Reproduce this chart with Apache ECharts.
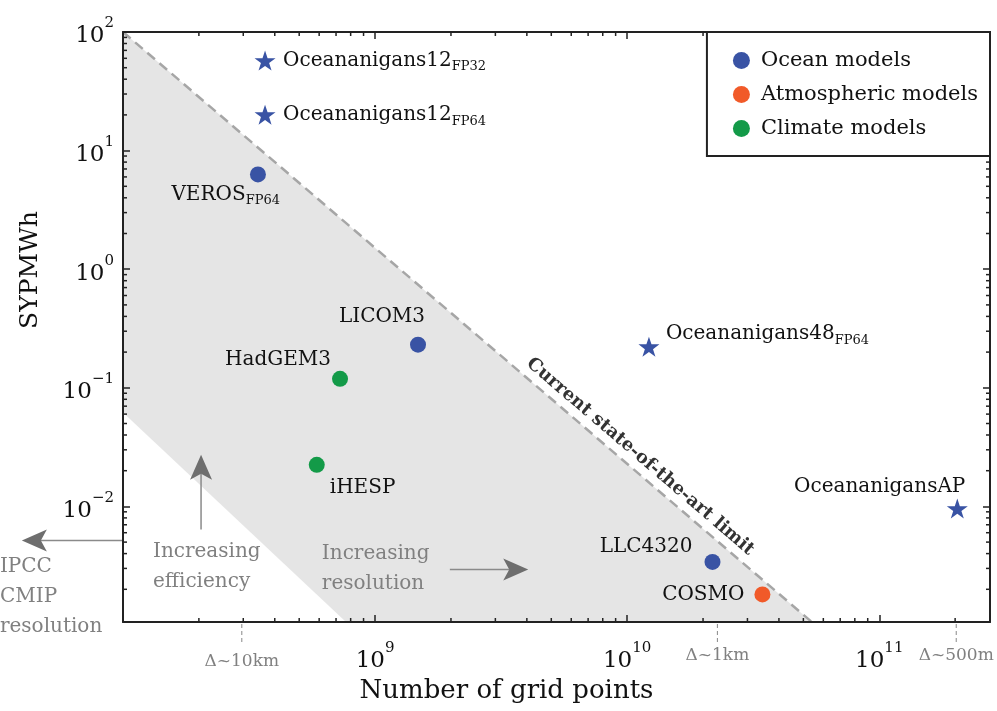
<!DOCTYPE html>
<html>
<head>
<meta charset="utf-8">
<script src="https://cdn.jsdelivr.net/npm/echarts@6/dist/echarts.min.js"></script>
<style>
  html, body { margin: 0; padding: 0; background: #fff; }
  #chart { width: 997px; height: 711px; }
</style>
</head>
<body>
<div id="chart"></div>
<script>
// axis ranges
const xMin = 1e8
const xMax = 2.75e11
const yMin = 1.06e-3
const yMax = 100

// ocean models (circles)
const oceanNames = ['VEROS', 'LICOM3', 'LLC4320']
const oceanSub = ['FP64', '', '']
const oceanX = [3.43e8, 1.48e9, 2.18e10]
const oceanY = [6.3, 0.231, 0.0034]

// Oceananigans runs (stars)
const starNames = ['Oceananigans12', 'Oceananigans12', 'Oceananigans48', 'OceananigansAP']
const starSub = ['FP32', 'FP64', 'FP64', '']
const starX = [3.66e8, 3.66e8, 1.22e10, 2.04e11]
const starY = [57.4, 20.1, 0.222, 0.0096]

// atmospheric models
const atmosNames = ['COSMO']
const atmosSub = ['']
const atmosX = [3.44e10]
const atmosY = [0.00181]

// climate models
const climateNames = ['HadGEM3', 'iHESP']
const climateSub = ['', '']
const climateX = [7.26e8, 5.87e8]
const climateY = [0.119, 0.0224]

// current state-of-the-art limit + shaded region
const limitX = [1e8, 5.4e10]
const limitY = [100, 1.06e-3]
const bandX = [1e8, 5.4e10, 7.67e8, 1e8]
const bandY = [100, 1.06e-3, 1.06e-3, 0.062]

// resolution marks under the x axis
const resLabels = ['Δ~10km', 'Δ~1km', 'Δ~500m']
const resX = [2.96e8, 2.28e10, 2.02e11]

// annotation arrows (from, to) in data space
const arrowFromX = [2.04e8, 1.98e9, 1e8]
const arrowFromY = [6.38e-3, 2.94e-3, 5.15e-3]
const arrowToX = [2.04e8, 4.05e9, 3.97e7]
const arrowToY = [2.73e-2, 2.94e-3, 5.15e-3]

// annotation texts (top-left anchor in data space)
const noteTexts = ['Increasing\nefficiency', 'Increasing\nresolution', 'IPCC\nCMIP\nresolution']
const noteX = [1.315e8, 6.15e8, 3.25e7]
const noteY = [5.57e-3, 5.36e-3, 4.16e-3]

const SERIF = 'DejaVu Serif'
const BLUE = '#3953a4'
const ORANGE = '#f15a29'
const GREEN = '#139a48'
const STAR = 'path://M50,0 L61.8,35.1 L98.9,35.1 L69,57 L80.3,91.9 L50,70.4 L19.7,91.9 L31,57 L1.1,35.1 L38.2,35.1 Z'

// where each point's label sits relative to its marker
const placement = {
  'VEROS': { align: 'right', dx: 22, dy: 20 },
  'LICOM3': { align: 'center', dx: -36, dy: -28 },
  'LLC4320': { align: 'right', dx: -20, dy: -15 },
  'COSMO': { align: 'right', dx: -18, dy: 0 },
  'HadGEM3': { align: 'right', dx: -9, dy: -19 },
  'iHESP': { align: 'left', dx: 13, dy: 23 },
  'Oceananigans12': { align: 'left', dx: 18, dy: 0 },
  'Oceananigans48': { align: 'left', dx: 17, dy: -13 },
  'OceananigansAP': { align: 'right', dx: 8, dy: -22 },
}

const labelRich = {
  n: { fontFamily: SERIF, fontSize: 20, color: '#111', lineHeight: 26 },
  s: { fontFamily: SERIF, fontSize: 13, color: '#111', verticalAlign: 'bottom' },
}

function points(names, subs, xs, ys) {
  return names.map((n, i) => {
    const p = placement[n]
    return {
      name: n,
      value: [xs[i], ys[i]],
      label: {
        align: p.align,
        offset: [p.dx, p.dy],
        formatter: '{n|' + n + '}' + (subs[i] ? '{s|' + subs[i] + '}' : ''),
      },
    }
  })
}

const pointLabel = {
  show: true,
  position: 'inside',
  verticalAlign: 'middle',
  color: '#111',
  opacity: 1,
  rich: labelRich,
}

function powLabel(v, skip) {
  const e = Math.log10(v)
  const r = Math.round(e)
  if (Math.abs(e - r) > 1e-6 || skip.includes(r)) return ''
  return '{b|10}{e|' + String(r).replace('-', '\u2212') + '}'
}

const tickRich = {
  b: { fontFamily: SERIF, fontSize: 23, color: '#111', lineHeight: 32, verticalAlign: 'bottom' },
  e: { fontFamily: SERIF, fontSize: 15, color: '#111', verticalAlign: 'top' },
}

// minor tick values for the log axes
const xMinor = []
for (let d = 8; d <= 11; d++) for (let k = 2; k <= 9; k++) {
  const v = k * Math.pow(10, d)
  if (v > xMin && v < xMax) xMinor.push(v)
}
const yMinor = []
for (let d = -3; d <= 1; d++) for (let k = 2; k <= 9; k++) {
  const v = k * Math.pow(10, d)
  if (v > yMin && v < yMax) yMinor.push(v)
}

const frame = { show: true, lineStyle: { color: '#222', width: 2 } }
const majorTick = { show: true, inside: true, length: 7, lineStyle: { color: '#222', width: 1.5 } }

const chart = echarts.init(document.getElementById('chart'))

chart.setOption({
  animation: false,
  backgroundColor: '#fff',
  grid: { left: 123, right: 7, top: 32, bottom: 89 },
  legend: {
    data: ['Ocean models', 'Atmospheric models', 'Climate models'],
    orient: 'vertical',
    right: 7,
    top: 32,
    z: 30,
    icon: 'circle',
    itemWidth: 17,
    itemHeight: 17,
    itemGap: 13,
    padding: [18, 12, 17, 26],
    borderColor: '#222',
    borderWidth: 2,
    backgroundColor: '#fff',
    selectedMode: false,
    itemStyle: { opacity: 1 },
    textStyle: { fontFamily: SERIF, fontSize: 21, color: '#111', lineHeight: 21, padding: [0, 0, 0, 6] },
  },
  xAxis: [
    {
      type: 'log', min: xMin, max: xMax, position: 'bottom', z: 20,
      axisLine: frame, axisTick: majorTick, splitLine: { show: false },
      axisLabel: { margin: 19, formatter: v => powLabel(v, [8]), rich: tickRich },
      name: 'Number of grid points', nameLocation: 'middle', nameGap: 47,
      nameTextStyle: { fontFamily: SERIF, fontSize: 26, color: '#111', padding: [0, 100, 0, 0] },
    },
    {
      type: 'log', min: xMin, max: xMax, position: 'top', z: 20,
      axisLine: frame, axisTick: majorTick, splitLine: { show: false }, axisLabel: { show: false },
    },
  ],
  yAxis: [
    {
      type: 'log', min: yMin, max: yMax, position: 'left', z: 20,
      axisLine: frame, axisTick: majorTick, splitLine: { show: false },
      axisLabel: { margin: 9, formatter: v => powLabel(v, []), rich: tickRich },
      name: 'SYPMWh', nameLocation: 'middle', nameGap: 80,
      nameTextStyle: { fontFamily: SERIF, fontSize: 25, color: '#111', padding: [0, 0, 0, 114] },
    },
    {
      type: 'log', min: yMin, max: yMax, position: 'right', z: 20,
      axisLine: frame, axisTick: majorTick, splitLine: { show: false }, axisLabel: { show: false },
    },
  ],
  series: [
    {
      // shaded region under the limit
      type: 'custom',
      name: 'band',
      z: 1,
      silent: true,
      data: [[xMin, yMin]],
      renderItem: (params, api) => ({
        type: 'polygon',
        shape: { points: bandX.map((x, i) => api.coord([x, bandY[i]])) },
        style: { fill: '#e5e5e5' },
      }),
    },
    {
      type: 'line',
      name: 'limit',
      z: 2,
      silent: true,
      symbol: 'none',
      data: limitX.map((x, i) => [x, limitY[i]]),
      lineStyle: { color: '#a6a6a6', width: 2.5, type: [10, 6] },
    },
    {
      // minor ticks on x (bottom + top)
      type: 'custom',
      name: 'xminor',
      z: 21,
      silent: true,
      data: xMinor.map(v => [v, yMin]),
      renderItem: (params, api) => {
        const v = api.value(0)
        const b = api.coord([v, yMin])
        const t = api.coord([v, yMax])
        const st = { stroke: '#222', lineWidth: 1.5 }
        return {
          type: 'group', children: [
            { type: 'line', shape: { x1: b[0], y1: b[1], x2: b[0], y2: b[1] - 4 }, style: st },
            { type: 'line', shape: { x1: t[0], y1: t[1], x2: t[0], y2: t[1] + 4 }, style: st },
          ],
        }
      },
    },
    {
      // minor ticks on y (left + right)
      type: 'custom',
      name: 'yminor',
      z: 21,
      silent: true,
      data: yMinor.map(v => [xMin, v]),
      renderItem: (params, api) => {
        const v = api.value(1)
        const l = api.coord([xMin, v])
        const r = api.coord([xMax, v])
        const st = { stroke: '#222', lineWidth: 1.5 }
        return {
          type: 'group', children: [
            { type: 'line', shape: { x1: l[0], y1: l[1], x2: l[0] + 4, y2: l[1] }, style: st },
            { type: 'line', shape: { x1: r[0], y1: r[1], x2: r[0] - 4, y2: r[1] }, style: st },
          ],
        }
      },
    },
    {
      // arrows, notes, resolution marks, limit caption
      type: 'custom',
      name: 'notes',
      z: 6,
      silent: true,
      clip: false,
      data: [[xMin, yMin]],
      renderItem: (params, api) => {
        const ch = []
        arrowFromX.forEach((fx, i) => {
          const p0 = api.coord([fx, arrowFromY[i]])
          const p1 = api.coord([arrowToX[i], arrowToY[i]])
          const len = Math.hypot(p1[0] - p0[0], p1[1] - p0[1])
          const ux = (p1[0] - p0[0]) / len, uy = (p1[1] - p0[1]) / len
          const nx = -uy, ny = ux
          const L = 25, W = 11, notch = 6
          ch.push({
            type: 'line',
            shape: { x1: p0[0], y1: p0[1], x2: p1[0] - ux * (L - notch), y2: p1[1] - uy * (L - notch) },
            style: { stroke: '#8a8a8a', lineWidth: 1.5 },
          })
          ch.push({
            type: 'polygon',
            shape: {
              points: [
                [p1[0], p1[1]],
                [p1[0] - ux * L + nx * W, p1[1] - uy * L + ny * W],
                [p1[0] - ux * (L - notch), p1[1] - uy * (L - notch)],
                [p1[0] - ux * L - nx * W, p1[1] - uy * L - ny * W],
              ],
            },
            style: { fill: '#6e6e6e' },
          })
        })
        noteTexts.forEach((t, i) => {
          const p = api.coord([noteX[i], noteY[i]])
          ch.push({
            type: 'text', x: p[0], y: p[1],
            style: { text: t, fill: '#808080', fontFamily: SERIF, fontSize: 20, lineHeight: 30, align: 'left', verticalAlign: 'top' },
          })
        })
        resX.forEach((x, i) => {
          const p = api.coord([x, yMin])
          ch.push({
            type: 'line',
            shape: { x1: p[0], y1: p[1] + 2, x2: p[0], y2: p[1] + 21 },
            style: { stroke: '#888', lineWidth: 1, lineDash: [4, 3] },
          })
          ch.push({
            type: 'text', x: p[0], y: p[1] + (i === 0 ? 40 : 34),
            style: { text: resLabels[i], fill: '#808080', fontFamily: SERIF, fontSize: 17, align: 'center', verticalAlign: 'middle' },
          })
        })
        // caption along the limit line
        const a = api.coord([limitX[0], limitY[0]])
        const b = api.coord([limitX[1], limitY[1]])
        const ang = Math.atan2(b[1] - a[1], b[0] - a[0])
        const t = 0.7377
        const cx = a[0] + (b[0] - a[0]) * t + Math.sin(ang) * 14
        const cy = a[1] + (b[1] - a[1]) * t - Math.cos(ang) * 14
        ch.push({
          type: 'text', x: cx, y: cy, rotation: -ang,
          style: { text: 'Current state-of-the-art limit', fill: '#333', fontFamily: SERIF, fontWeight: 'bold', fontSize: 18, align: 'center', verticalAlign: 'middle' },
        })
        return { type: 'group', children: ch }
      },
    },
    {
      type: 'scatter',
      name: 'Ocean models',
      z: 10,
      symbol: 'circle',
      symbolSize: 16,
      itemStyle: { color: BLUE, opacity: 1 },
      label: pointLabel,
      data: points(oceanNames, oceanSub, oceanX, oceanY),
    },
    {
      type: 'scatter',
      name: 'Oceananigans',
      z: 10,
      symbol: STAR,
      symbolSize: [21, 20],
      itemStyle: { color: BLUE, opacity: 1 },
      label: pointLabel,
      data: points(starNames, starSub, starX, starY),
    },
    {
      type: 'scatter',
      name: 'Atmospheric models',
      z: 10,
      symbol: 'circle',
      symbolSize: 16,
      itemStyle: { color: ORANGE, opacity: 1 },
      label: pointLabel,
      data: points(atmosNames, atmosSub, atmosX, atmosY),
    },
    {
      type: 'scatter',
      name: 'Climate models',
      z: 10,
      symbol: 'circle',
      symbolSize: 16,
      itemStyle: { color: GREEN, opacity: 1 },
      label: pointLabel,
      data: points(climateNames, climateSub, climateX, climateY),
    },
  ],
})
</script>
</body>
</html>
